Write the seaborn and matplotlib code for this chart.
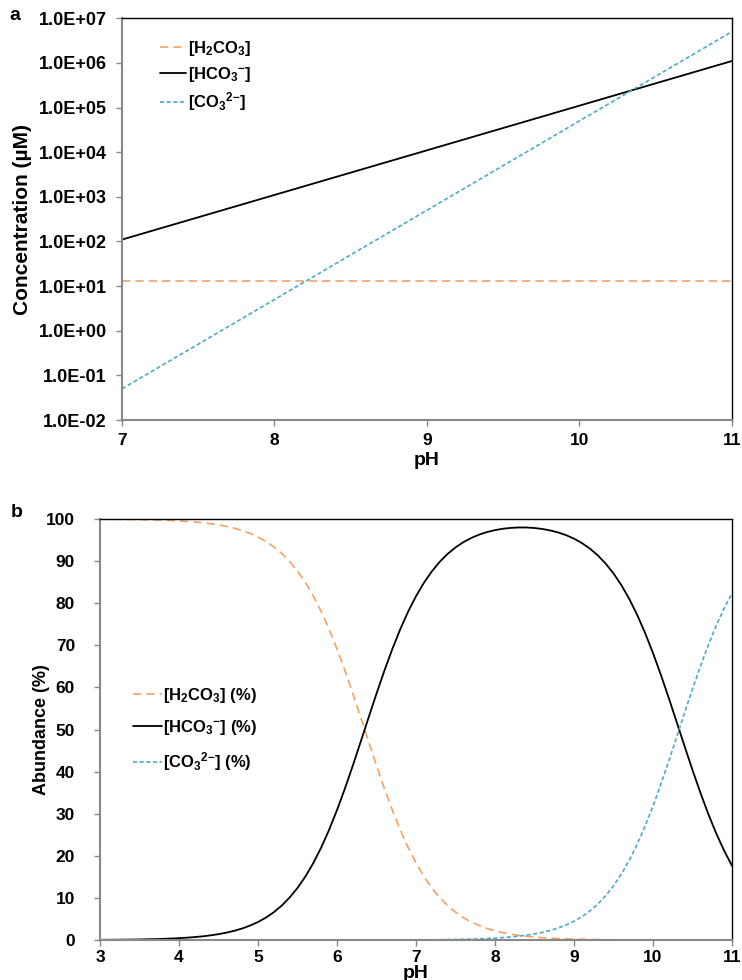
import numpy as np
import pandas as pd
import matplotlib
matplotlib.use("Agg")
import matplotlib.pyplot as plt
import seaborn as sns
from matplotlib.ticker import FuncFormatter, MultipleLocator

# data: panel a (log concentrations, uM)
ph_a = [7, 8, 9, 10, 11]
h2co3_a = [13, 13, 13, 13, 13]
hco3_a = [110, 1.1e3, 1.1e4, 1.1e5, 1.1e6]
co3_a = [0.05, 5, 500, 5e4, 5e6]

# data: panel b (abundance, %), pH 3.0 .. 11.0 in 0.1 steps
ph_b = [round(3 + 0.1 * i, 1) for i in range(81)]
h2co3_b = [99.96, 99.94, 99.93, 99.91, 99.89, 99.86, 99.82, 99.78, 99.72, 99.65,
           99.56, 99.44, 99.30, 99.12, 98.89, 98.61, 98.25, 97.81, 97.26, 96.57,
           95.72, 94.68, 93.39, 91.82, 89.91, 87.62, 84.91, 81.71, 78.01, 73.81,
           69.12, 64.01, 58.55, 52.87, 47.13, 41.44, 35.98, 30.86, 26.17, 21.96,
           18.28, 15.09, 12.37, 10.08, 8.17, 6.60, 5.31, 4.27, 3.42, 2.73,
           2.18, 1.74, 1.38, 1.10, 0.87, 0.69, 0.55, 0.43, 0.34, 0.27,
           0.21, 0.17, 0.13, 0.10, 0.08, 0.06, 0.05, 0.04, 0.03, 0.02,
           0.02, 0.01, 0.01, 0.01, 0.0, 0.0, 0.0, 0.0, 0.0, 0.0,
           0.0]
hco3_b = [0.04, 0.06, 0.07, 0.09, 0.11, 0.14, 0.18, 0.22, 0.28, 0.35,
          0.44, 0.56, 0.70, 0.88, 1.11, 1.39, 1.75, 2.19, 2.74, 3.43,
          4.28, 5.32, 6.61, 8.18, 10.09, 12.38, 15.09, 18.29, 21.99, 26.19,
          30.88, 35.99, 41.45, 47.13, 52.87, 58.55, 64.01, 69.12, 73.81, 78.01,
          81.67, 84.86, 87.56, 89.84, 91.72, 93.26, 94.51, 95.51, 96.30, 96.91,
          97.36, 97.69, 97.89, 97.99, 97.98, 97.86, 97.63, 97.28, 96.80, 96.16,
          95.33, 94.28, 92.98, 91.37, 89.41, 87.06, 84.26, 80.98, 77.19, 72.90,
          68.12, 62.93, 57.42, 51.72, 45.98, 40.34, 34.94, 29.90, 25.31, 21.21,
          17.61]
co3_b = [0.0, 0.0, 0.0, 0.0, 0.0, 0.0, 0.0, 0.0, 0.0, 0.0,
         0.0, 0.0, 0.0, 0.0, 0.0, 0.0, 0.0, 0.0, 0.0, 0.0,
         0.0, 0.0, 0.0, 0.0, 0.0, 0.0, 0.0, 0.0, 0.0, 0.0,
         0.0, 0.0, 0.0, 0.0, 0.0, 0.01, 0.01, 0.02, 0.02, 0.03,
         0.04, 0.05, 0.07, 0.08, 0.11, 0.14, 0.18, 0.22, 0.28, 0.36,
         0.46, 0.58, 0.73, 0.92, 1.15, 1.45, 1.82, 2.28, 2.86, 3.57,
         4.46, 5.55, 6.89, 8.53, 10.51, 12.88, 15.69, 18.98, 22.78, 27.08,
         31.86, 37.05, 42.57, 48.27, 54.02, 59.66, 65.06, 70.10, 74.69, 78.79,
         82.39]

sns.set_style("white")
plt.rcParams['font.family'] = ['Liberation Sans', 'DejaVu Sans']
plt.rcParams['font.weight'] = 'bold'
plt.rcParams['text.color'] = 'black'
plt.rcParams['axes.labelcolor'] = 'black'
plt.rcParams['mathtext.fontset'] = 'custom'
plt.rcParams['mathtext.rm'] = 'Liberation Sans:bold'
plt.rcParams['mathtext.it'] = 'Liberation Sans:bold'
plt.rcParams['mathtext.bf'] = 'Liberation Sans:bold'
plt.rcParams['mathtext.default'] = 'rm'

ORANGE = '#F4A261'
BLUE = '#4BACC6'

fig = plt.figure(figsize=(7.42, 9.8), dpi=100)
ax1 = fig.add_axes([0.1644, 0.5714, 0.822, 0.410])
ax2 = fig.add_axes([0.1348, 0.0408, 0.8518, 0.4296])

lab_h2 = r"[H$_2$CO$_3$]"
lab_h = r"[HCO$_3$$^{-}$]"
lab_c = r"[CO$_3$$^{2{-}}$]"

# panel a
sns.lineplot(x=ph_a, y=h2co3_a, ax=ax1, color=ORANGE, lw=1.2, label=lab_h2)
sns.lineplot(x=ph_a, y=hco3_a, ax=ax1, color='black', lw=1.3, label=lab_h)
sns.lineplot(x=ph_a, y=co3_a, ax=ax1, color=BLUE, lw=1.2, label=lab_c)
ax1.lines[0].set_dashes([5, 3])
ax1.lines[2].set_dashes([2.5, 1.5])
ax1.set_yscale('log')
ax1.set_ylim(1e-2, 1e7)
ax1.set_xlim(7, 11)
ax1.set_yticks([10.0 ** k for k in range(-2, 8)])
ax1.yaxis.set_minor_locator(plt.NullLocator())
ax1.yaxis.set_major_formatter(FuncFormatter(lambda v, p: f"{v:.1E}"))
ax1.xaxis.set_major_locator(MultipleLocator(1))
ax1.set_xlabel("pH", fontsize=14, fontweight='bold', labelpad=3)
ax1.set_ylabel("Concentration (µM)", fontsize=15, fontweight='bold', labelpad=5)
ax1.legend(loc='upper left', bbox_to_anchor=(0.037, 0.985), frameon=False, fontsize=12,
           handlelength=1.6, handletextpad=0.1, labelspacing=0.4)
fig.text(0.012, 0.984, "a", fontsize=14, fontweight='bold', va='center')

# panel b
sns.lineplot(x=ph_b, y=h2co3_b, ax=ax2, color=ORANGE, lw=1.2, label=lab_h2 + " (%)")
sns.lineplot(x=ph_b, y=hco3_b, ax=ax2, color='black', lw=1.3, label=lab_h + " (%)")
sns.lineplot(x=ph_b, y=co3_b, ax=ax2, color=BLUE, lw=1.2, label=lab_c + " (%)")
ax2.lines[0].set_dashes([5, 3])
ax2.lines[2].set_dashes([2.5, 1.5])
ax2.set_xlim(3, 11)
ax2.set_ylim(0, 100)
ax2.yaxis.set_major_locator(MultipleLocator(10))
ax2.xaxis.set_major_locator(MultipleLocator(1))
ax2.set_xlabel("pH", fontsize=14, fontweight='bold', labelpad=0)
ax2.set_ylabel("Abundance (%)", fontsize=13, fontweight='bold', labelpad=-3)
ax2.legend(loc='upper left', bbox_to_anchor=(0.029, 0.64), frameon=False, fontsize=12,
           handlelength=1.7, handletextpad=0.1, labelspacing=0.8)
fig.text(0.014, 0.477, "b", fontsize=14, fontweight='bold', va='center')

for ax in (ax1, ax2):
    for s in ('top', 'right'):
        ax.spines[s].set_color('black')
        ax.spines[s].set_linewidth(1.0)
    for s in ('left', 'bottom'):
        ax.spines[s].set_color('#888888')
        ax.spines[s].set_linewidth(1.5)
    ax.tick_params(axis='both', which='major', direction='out', length=4, width=1,
                   color='#888888', labelcolor='black', labelsize=12.5, pad=3)
    ax.tick_params(left=True, bottom=True)

ax1.tick_params(axis='y', labelsize=13, pad=7)
ax1.tick_params(axis='x', pad=5)
ax2.tick_params(axis='y', labelsize=12.5, pad=14)
ax2.tick_params(axis='x', pad=3)
for ax in (ax1, ax2):
    for t in ax.get_xticklabels() + ax.get_yticklabels():
        t.set_fontweight('bold')

fig.savefig("out.png", dpi=100)
